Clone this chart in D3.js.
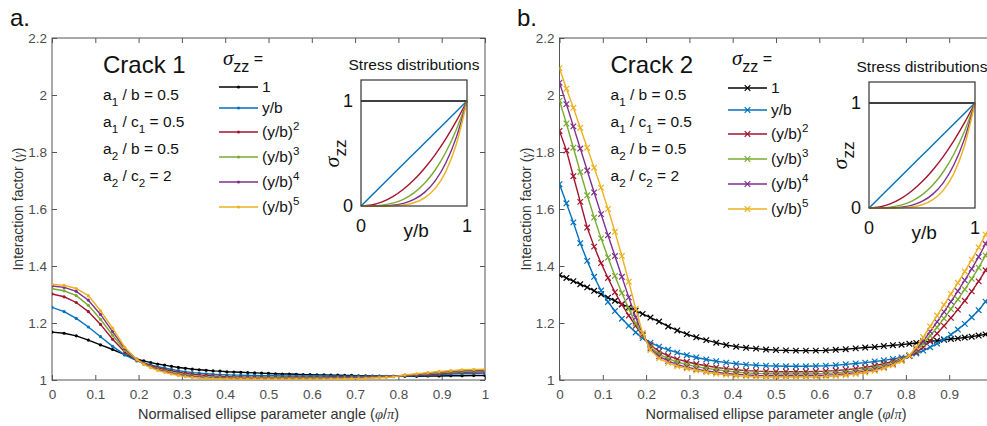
<!DOCTYPE html>
<html>
<head>
<meta charset="utf-8">
<script src="https://cdn.jsdelivr.net/npm/d3@7"></script>
<style>
body { margin: 0; background: #fff; }
svg { font-family: "Liberation Sans", Arial, sans-serif; }
</style>
</head>
<body>
<div id="chart"></div>
<script>
// ---- data ----
var seriesLabels = ['1', 'y/b', '(y/b)^2', '(y/b)^3', '(y/b)^4', '(y/b)^5'];
var ratioLabels = ['a_1 / b = 0.5', 'a_1 / c_1 = 0.5', 'a_2 / b = 0.5', 'a_2 / c_2 = 2'];
var xTicks = [0, 0.1, 0.2, 0.3, 0.4, 0.5, 0.6, 0.7, 0.8, 0.9, 1];
var xTickLabels = ['0', '0.1', '0.2', '0.3', '0.4', '0.5', '0.6', '0.7', '0.8', '0.9', '1'];
var yTicks = [1, 1.2, 1.4, 1.6, 1.8, 2, 2.2];
var yTickLabels = ['1', '1.2', '1.4', '1.6', '1.8', '2', '2.2'];

// crack 1 (panel a)
var xCrack1 = [0, 0.028, 0.056, 0.084, 0.112, 0.14, 0.168, 0.196,
  0.212, 0.228, 0.244, 0.26, 0.276, 0.292, 0.308, 0.324, 0.34, 0.356, 0.372, 0.388, 0.404, 0.42, 0.436, 0.452, 0.468,
  0.484, 0.5, 0.516, 0.532, 0.548, 0.564, 0.58, 0.596, 0.612, 0.628, 0.644, 0.66, 0.676, 0.692, 0.708, 0.724, 0.74,
  0.756, 0.772, 0.788,
  0.815, 0.842, 0.868, 0.894, 0.921, 0.947, 0.974, 1];
var crack1_p0 = [1.168, 1.164, 1.155, 1.140, 1.123, 1.107, 1.089, 1.073,
  1.067, 1.061, 1.056, 1.052, 1.048, 1.044, 1.041, 1.038, 1.036, 1.034, 1.032, 1.031, 1.029, 1.028, 1.027, 1.026, 1.025,
  1.024, 1.023, 1.022, 1.021, 1.021, 1.020, 1.019, 1.019, 1.018, 1.018, 1.017, 1.017, 1.016, 1.016, 1.015, 1.015, 1.014,
  1.014, 1.013, 1.013,
  1.013, 1.013, 1.014, 1.014, 1.015, 1.015, 1.016, 1.016];
var crack1_p1 = [1.255, 1.240, 1.216, 1.186, 1.152, 1.118, 1.088, 1.067,
  1.060, 1.053, 1.047, 1.042, 1.037, 1.033, 1.029, 1.026, 1.024, 1.022, 1.020, 1.019, 1.018, 1.017, 1.017, 1.016, 1.016,
  1.015, 1.015, 1.015, 1.014, 1.014, 1.014, 1.014, 1.014, 1.014, 1.014, 1.013, 1.013, 1.013, 1.013, 1.013, 1.013, 1.013,
  1.013, 1.013, 1.013,
  1.014, 1.015, 1.017, 1.019, 1.021, 1.022, 1.023, 1.024];
var crack1_p2 = [1.302, 1.292, 1.272, 1.240, 1.195, 1.143, 1.098, 1.069,
  1.058, 1.050, 1.043, 1.037, 1.032, 1.027, 1.023, 1.020, 1.018, 1.016, 1.014, 1.013, 1.012, 1.011, 1.011, 1.010, 1.010,
  1.010, 1.009, 1.009, 1.009, 1.009, 1.009, 1.009, 1.009, 1.009, 1.009, 1.009, 1.010, 1.010, 1.010, 1.010, 1.011, 1.011,
  1.012, 1.012, 1.013,
  1.015, 1.017, 1.019, 1.022, 1.025, 1.027, 1.028, 1.029];
var crack1_p3 = [1.320, 1.313, 1.296, 1.262, 1.213, 1.157, 1.104, 1.070,
  1.057, 1.047, 1.039, 1.032, 1.027, 1.022, 1.018, 1.015, 1.013, 1.011, 1.010, 1.009, 1.008, 1.008, 1.007, 1.007, 1.007,
  1.007, 1.007, 1.007, 1.007, 1.007, 1.007, 1.007, 1.007, 1.007, 1.007, 1.007, 1.008, 1.008, 1.008, 1.009, 1.009, 1.010,
  1.011, 1.012, 1.013,
  1.016, 1.019, 1.022, 1.025, 1.028, 1.030, 1.031, 1.032];
var crack1_p4 = [1.330, 1.325, 1.311, 1.280, 1.230, 1.170, 1.110, 1.071,
  1.056, 1.045, 1.036, 1.029, 1.023, 1.018, 1.015, 1.012, 1.010, 1.008, 1.007, 1.006, 1.006, 1.005, 1.005, 1.005, 1.005,
  1.005, 1.005, 1.005, 1.005, 1.005, 1.005, 1.005, 1.005, 1.005, 1.005, 1.006, 1.006, 1.006, 1.007, 1.007, 1.008, 1.009,
  1.010, 1.011, 1.013,
  1.017, 1.020, 1.024, 1.028, 1.031, 1.033, 1.034, 1.035];
var crack1_p5 = [1.336, 1.332, 1.321, 1.296, 1.243, 1.182, 1.115, 1.072,
  1.055, 1.043, 1.034, 1.027, 1.021, 1.016, 1.012, 1.009, 1.007, 1.006, 1.005, 1.004, 1.004, 1.003, 1.003, 1.003, 1.003,
  1.003, 1.003, 1.003, 1.003, 1.003, 1.003, 1.003, 1.003, 1.003, 1.003, 1.004, 1.004, 1.004, 1.005, 1.005, 1.006, 1.007,
  1.008, 1.009, 1.011,
  1.018, 1.022, 1.026, 1.030, 1.033, 1.036, 1.037, 1.038];

// crack 2 (panel b)
var xCrack2 = [0, 0.016, 0.032, 0.048, 0.064, 0.08, 0.096, 0.112, 0.128, 0.144, 0.16, 0.176, 0.192,
  0.21, 0.23, 0.251, 0.272, 0.294, 0.316, 0.339, 0.362, 0.385, 0.408, 0.431, 0.454, 0.477, 0.5, 0.523, 0.546, 0.569,
  0.592, 0.615, 0.638, 0.661, 0.684, 0.706, 0.728, 0.749, 0.77, 0.79,
  0.808, 0.824, 0.84, 0.856, 0.872, 0.888, 0.904, 0.92, 0.936, 0.952, 0.968, 0.984, 1];
var crack2_p0 = [1.368, 1.358, 1.347, 1.336, 1.325, 1.313, 1.301, 1.289, 1.278, 1.266, 1.255, 1.243, 1.232,
  1.219, 1.205, 1.188, 1.174, 1.161, 1.150, 1.140, 1.131, 1.123, 1.117, 1.113, 1.110, 1.107, 1.105, 1.104, 1.103, 1.103,
  1.103, 1.104, 1.106, 1.108, 1.111, 1.114, 1.116, 1.119, 1.122, 1.124,
  1.127, 1.130, 1.133, 1.136, 1.138, 1.141, 1.144, 1.146, 1.149, 1.152, 1.156, 1.160, 1.163];
var crack2_p1 = [1.687, 1.620, 1.553, 1.480, 1.418, 1.362, 1.314, 1.274, 1.242, 1.215, 1.190, 1.167, 1.147,
  1.131, 1.117, 1.106, 1.096, 1.087, 1.079, 1.072, 1.066, 1.061, 1.057, 1.054, 1.052, 1.050, 1.049, 1.048, 1.048, 1.048,
  1.049, 1.050, 1.052, 1.055, 1.058, 1.061, 1.065, 1.069, 1.074, 1.079,
  1.085, 1.093, 1.103, 1.115, 1.128, 1.143, 1.159, 1.177, 1.197, 1.220, 1.245, 1.275, 1.305];
var crack2_p2 = [1.874, 1.805, 1.715, 1.625, 1.535, 1.468, 1.410, 1.358, 1.308, 1.265, 1.226, 1.190, 1.155,
  1.123, 1.100, 1.085, 1.073, 1.064, 1.056, 1.050, 1.044, 1.040, 1.036, 1.033, 1.031, 1.030, 1.029, 1.029, 1.029, 1.029,
  1.030, 1.031, 1.033, 1.036, 1.040, 1.044, 1.050, 1.057, 1.065, 1.074,
  1.084, 1.097, 1.115, 1.138, 1.163, 1.190, 1.218, 1.247, 1.278, 1.311, 1.346, 1.385, 1.420];
var crack2_p3 = [1.980, 1.900, 1.815, 1.730, 1.648, 1.570, 1.497, 1.430, 1.365, 1.305, 1.250, 1.198, 1.157,
  1.116, 1.091, 1.075, 1.063, 1.054, 1.047, 1.041, 1.036, 1.032, 1.028, 1.025, 1.023, 1.022, 1.021, 1.021, 1.021, 1.021,
  1.022, 1.023, 1.025, 1.028, 1.032, 1.037, 1.043, 1.051, 1.061, 1.072,
  1.085, 1.103, 1.127, 1.155, 1.185, 1.216, 1.249, 1.283, 1.318, 1.355, 1.394, 1.437, 1.480];
var crack2_p4 = [2.043, 1.968, 1.890, 1.812, 1.735, 1.658, 1.582, 1.508, 1.435, 1.362, 1.290, 1.220, 1.160,
  1.110, 1.083, 1.067, 1.054, 1.045, 1.038, 1.032, 1.027, 1.023, 1.020, 1.018, 1.016, 1.015, 1.015, 1.015, 1.015, 1.015,
  1.016, 1.017, 1.019, 1.022, 1.026, 1.031, 1.037, 1.045, 1.056, 1.069,
  1.086, 1.108, 1.137, 1.170, 1.204, 1.239, 1.275, 1.312, 1.350, 1.390, 1.432, 1.478, 1.520];
var crack2_p5 = [2.094, 2.022, 1.955, 1.885, 1.815, 1.745, 1.675, 1.600, 1.520, 1.435, 1.345, 1.250, 1.165,
  1.105, 1.076, 1.060, 1.048, 1.040, 1.033, 1.027, 1.022, 1.018, 1.015, 1.013, 1.011, 1.010, 1.010, 1.010, 1.010, 1.010,
  1.011, 1.012, 1.014, 1.017, 1.021, 1.026, 1.032, 1.041, 1.052, 1.067,
  1.087, 1.115, 1.150, 1.188, 1.226, 1.264, 1.302, 1.341, 1.381, 1.422, 1.465, 1.510, 1.555];

// inset: stress distributions sigma_zz vs y/b
var insetX  = [0, 0.1, 0.2, 0.3, 0.4, 0.5, 0.6, 0.7, 0.8, 0.9, 1];
var inset_p0 = [1, 1, 1, 1, 1, 1, 1, 1, 1, 1, 1];
var inset_p1 = [0, 0.1, 0.2, 0.3, 0.4, 0.5, 0.6, 0.7, 0.8, 0.9, 1];
var inset_p2 = [0, 0.01, 0.04, 0.09, 0.16, 0.25, 0.36, 0.49, 0.64, 0.81, 1];
var inset_p3 = [0, 0.001, 0.008, 0.027, 0.064, 0.125, 0.216, 0.343, 0.512, 0.729, 1];
var inset_p4 = [0, 0.0001, 0.0016, 0.0081, 0.0256, 0.0625, 0.1296, 0.2401, 0.4096, 0.6561, 1];
var inset_p5 = [0, 0.00001, 0.00032, 0.00243, 0.01024, 0.03125, 0.07776, 0.16807, 0.32768, 0.59049, 1];

// ---- drawing ----
var W = 987, H = 426;
var colors = ['#000000', '#0072BD', '#A2142F', '#77AC30', '#7E2F8E', '#EDB120'];
var axisColor = '#555';

var svg = d3.select('#chart').append('svg')
    .attr('width', W)
    .attr('height', H);

// text with _x subscripts and ^x superscripts
function rich(t, str, fs) {
    var off = 0;
    str.split(/([_^]\w)/).forEach(function (p) {
        if (!p) return;
        var target = 0, txt = p, size = fs;
        if (p[0] === '_') { target = fs * 0.38; txt = p.slice(1); size = fs * 0.75; }
        else if (p[0] === '^') { target = -fs * 0.45; txt = p.slice(1); size = fs * 0.75; }
        t.append('tspan').attr('dy', target - off).attr('font-size', size).text(txt);
        off = target;
    });
}

function markerPath(type) {
    if (type === 'x') return 'M-2.8,-2.8L2.8,2.8M-2.8,2.8L2.8,-2.8';
    return null;
}

var panels = [
    { tag: 'a.', tagX: 10, x0: 52, crack: 'Crack 1', xs: xCrack1,
      ys: [crack1_p0, crack1_p1, crack1_p2, crack1_p3, crack1_p4, crack1_p5],
      marker: 'dot', legX: 219, legRows: [87, 108, 132, 157, 182, 207], inX: 361, inY: 80 },
    { tag: 'b.', tagX: 517, x0: 559.5, crack: 'Crack 2', xs: xCrack2,
      ys: [crack2_p0, crack2_p1, crack2_p2, crack2_p3, crack2_p4, crack2_p5],
      marker: 'x', legX: 728, legRows: [88, 110, 134, 159, 184, 209], inX: 869, inY: 82 }
];

var insetSeries = [inset_p0, inset_p1, inset_p2, inset_p3, inset_p4, inset_p5];

panels.forEach(function (p, pi) {
    var x = d3.scaleLinear().domain([0, 1]).range([p.x0, p.x0 + 433]);
    var y = d3.scaleLinear().domain([1, 2.2]).range([380, 38]);
    var g = svg.append('g');

    g.append('text')
        .attr('x', p.tagX).attr('y', 26)
        .attr('font-size', 24).attr('fill', '#111')
        .text(p.tag);

    // clip
    svg.append('clipPath').attr('id', 'clip' + pi)
        .append('rect').attr('x', x(0)).attr('y', y(2.2))
        .attr('width', x(1) - x(0)).attr('height', y(1) - y(2.2));

    // axes (ticks inward on all four sides)
    var fmtX = function (d) { return xTickLabels[xTicks.indexOf(d)]; };
    var fmtY = function (d) { return yTickLabels[yTicks.indexOf(d)]; };
    var axB = g.append('g').attr('transform', 'translate(0,380)')
        .call(d3.axisBottom(x).tickValues(xTicks).tickFormat(fmtX).tickSize(-5).tickPadding(9));
    var axT = g.append('g').attr('transform', 'translate(0,38)')
        .call(d3.axisTop(x).tickValues(xTicks).tickFormat('').tickSize(-5));
    var axL = g.append('g').attr('transform', 'translate(' + x(0) + ',0)')
        .call(d3.axisLeft(y).tickValues(yTicks).tickFormat(fmtY).tickSize(-5).tickPadding(5));
    var axR = g.append('g').attr('transform', 'translate(' + x(1) + ',0)')
        .call(d3.axisRight(y).tickValues(yTicks).tickFormat('').tickSize(-5));
    [axB, axT, axL, axR].forEach(function (a) {
        a.select('.domain').remove();
        a.selectAll('line').attr('stroke', axisColor);
        a.selectAll('text').attr('fill', '#4d4d4d').attr('font-size', 13.5)
            .attr('font-family', '"Liberation Sans", Arial, sans-serif');
    });
    // tick labels that fall past the page edge are not shown (as in the cropped figure)
    axB.selectAll('.tick').filter(function (d) { return x(d) > W - 4; })
        .select('text').remove();
    g.append('rect')
        .attr('x', x(0)).attr('y', y(2.2))
        .attr('width', x(1) - x(0)).attr('height', y(1) - y(2.2))
        .attr('fill', 'none').attr('stroke', axisColor).attr('stroke-width', 1);

    // axis labels
    var xl = g.append('text')
        .attr('x', x(0.5)).attr('y', 419)
        .attr('text-anchor', 'middle').attr('font-size', 14.5).attr('fill', '#333')
        .text('Normalised ellipse parameter angle (');
    xl.append('tspan').attr('font-family', '"Liberation Serif", serif').attr('font-style', 'italic').text('φ');
    xl.append('tspan').text('/');
    xl.append('tspan').attr('font-family', '"Liberation Serif", serif').attr('font-style', 'italic').text('π');
    xl.append('tspan').text(')');

    var yl = g.append('text')
        .attr('transform', 'translate(' + (x(0) - 29) + ',' + y(1.6) + ') rotate(-90)')
        .attr('text-anchor', 'middle').attr('font-size', 14).attr('fill', '#333')
        .text('Interaction factor (');
    yl.append('tspan').attr('font-family', '"Liberation Serif", serif').attr('font-style', 'italic').text('γ');
    yl.append('tspan').text(')');

    // data
    var plot = g.append('g').attr('clip-path', 'url(#clip' + pi + ')');
    var line = d3.line()
        .x(function (d) { return x(d[0]); })
        .y(function (d) { return y(d[1]); });

    p.ys.forEach(function (vals, si) {
        var pts = p.xs.map(function (xv, i) { return [xv, vals[i]]; });
        plot.append('path')
            .attr('d', line(pts))
            .attr('fill', 'none')
            .attr('stroke', colors[si])
            .attr('stroke-width', 1.4);
        if (p.marker === 'x') {
            plot.selectAll('path.m' + si)
                .data(pts).enter().append('path')
                .attr('class', 'm' + si)
                .attr('transform', function (d) { return 'translate(' + x(d[0]) + ',' + y(d[1]) + ')'; })
                .attr('d', markerPath('x'))
                .attr('stroke', colors[si]).attr('stroke-width', 1.2).attr('fill', 'none');
        } else {
            plot.selectAll('circle.m' + si)
                .data(pts).enter().append('circle')
                .attr('class', 'm' + si)
                .attr('cx', function (d) { return x(d[0]); })
                .attr('cy', function (d) { return y(d[1]); })
                .attr('r', 1.6)
                .attr('fill', colors[si]);
        }
    });

    // crack annotations
    var tx = p.x0 + 51;
    g.append('text').attr('x', tx).attr('y', 73)
        .attr('font-size', 24).attr('fill', '#111').text(p.crack);
    ratioLabels.forEach(function (s, i) {
        var t = g.append('text').attr('x', tx).attr('y', 100 + i * 27)
            .attr('font-size', 15.5).attr('fill', '#111');
        rich(t, s, 15.5);
    });

    // legend
    var lg = g.append('g');
    var lt = lg.append('text').attr('x', p.legX + 4).attr('y', 65).attr('fill', '#111');
    lt.append('tspan').attr('font-family', '"Liberation Serif", serif')
        .attr('font-style', 'italic').attr('font-size', 21).text('σ');
    lt.append('tspan').attr('font-size', 16).attr('dy', 7).text('zz');
    lt.append('tspan').attr('font-size', 16).attr('dy', -8).text(' =');

    seriesLabels.forEach(function (s, i) {
        var ry = p.legRows[i];
        lg.append('line')
            .attr('x1', p.legX).attr('x2', p.legX + 39)
            .attr('y1', ry).attr('y2', ry)
            .attr('stroke', colors[i]).attr('stroke-width', 1.4);
        if (p.marker === 'x') {
            lg.append('path').attr('transform', 'translate(' + (p.legX + 19.5) + ',' + ry + ')')
                .attr('d', markerPath('x')).attr('stroke', colors[i]).attr('stroke-width', 1.2);
        } else {
            lg.append('circle').attr('cx', p.legX + 19.5).attr('cy', ry).attr('r', 1.6).attr('fill', colors[i]);
        }
        var t = lg.append('text').attr('x', p.legX + 43).attr('y', ry + 5)
            .attr('font-size', 15.5).attr('fill', '#111');
        rich(t, s, 15.5);
    });

    // inset
    var ix = d3.scaleLinear().domain([0, 1]).range([p.inX, p.inX + 106]);
    var iy = d3.scaleLinear().domain([0, 1.2]).range([p.inY + 126, p.inY]);
    var ig = g.append('g');
    ig.append('rect').attr('x', ix(0)).attr('y', iy(1.2))
        .attr('width', 106).attr('height', 126).attr('fill', '#fff');
    var iline = d3.line()
        .x(function (d) { return ix(d[0]); })
        .y(function (d) { return iy(d[1]); })
        .curve(d3.curveMonotoneX);
    insetSeries.forEach(function (vals, si) {
        ig.append('path')
            .attr('d', iline(insetX.map(function (xv, i) { return [xv, vals[i]]; })))
            .attr('fill', 'none').attr('stroke', colors[si]).attr('stroke-width', 1.4);
    });
    ig.append('rect').attr('x', ix(0)).attr('y', iy(1.2))
        .attr('width', 106).attr('height', 126)
        .attr('fill', 'none').attr('stroke', '#333').attr('stroke-width', 1.2);

    ig.append('text').attr('x', ix(0.5)).attr('y', iy(1.2) - 10)
        .attr('text-anchor', 'middle').attr('font-size', 15.5).attr('fill', '#111')
        .text('Stress distributions');
    [[1, '1'], [0, '0']].forEach(function (d) {
        ig.append('text').attr('x', ix(0) - 8).attr('y', iy(d[0]) + 6)
            .attr('text-anchor', 'end').attr('font-size', 18).attr('fill', '#111').text(d[1]);
        ig.append('text').attr('x', ix(d[0])).attr('y', iy(0) + 26)
            .attr('text-anchor', 'middle').attr('font-size', 18).attr('fill', '#111').text(d[1]);
    });
    ig.append('text').attr('x', ix(0.52)).attr('y', iy(0) + 31)
        .attr('text-anchor', 'middle').attr('font-size', 19).attr('fill', '#111').text('y/b');
    var sl = ig.append('text')
        .attr('transform', 'translate(' + (ix(0) - 22) + ',' + iy(0.5) + ') rotate(-90)')
        .attr('text-anchor', 'middle').attr('fill', '#111');
    sl.append('tspan').attr('font-family', '"Liberation Serif", serif')
        .attr('font-style', 'italic').attr('font-size', 22).text('σ');
    sl.append('tspan').attr('font-size', 17).attr('dy', 7).text('zz');
});
</script>
</body>
</html>
